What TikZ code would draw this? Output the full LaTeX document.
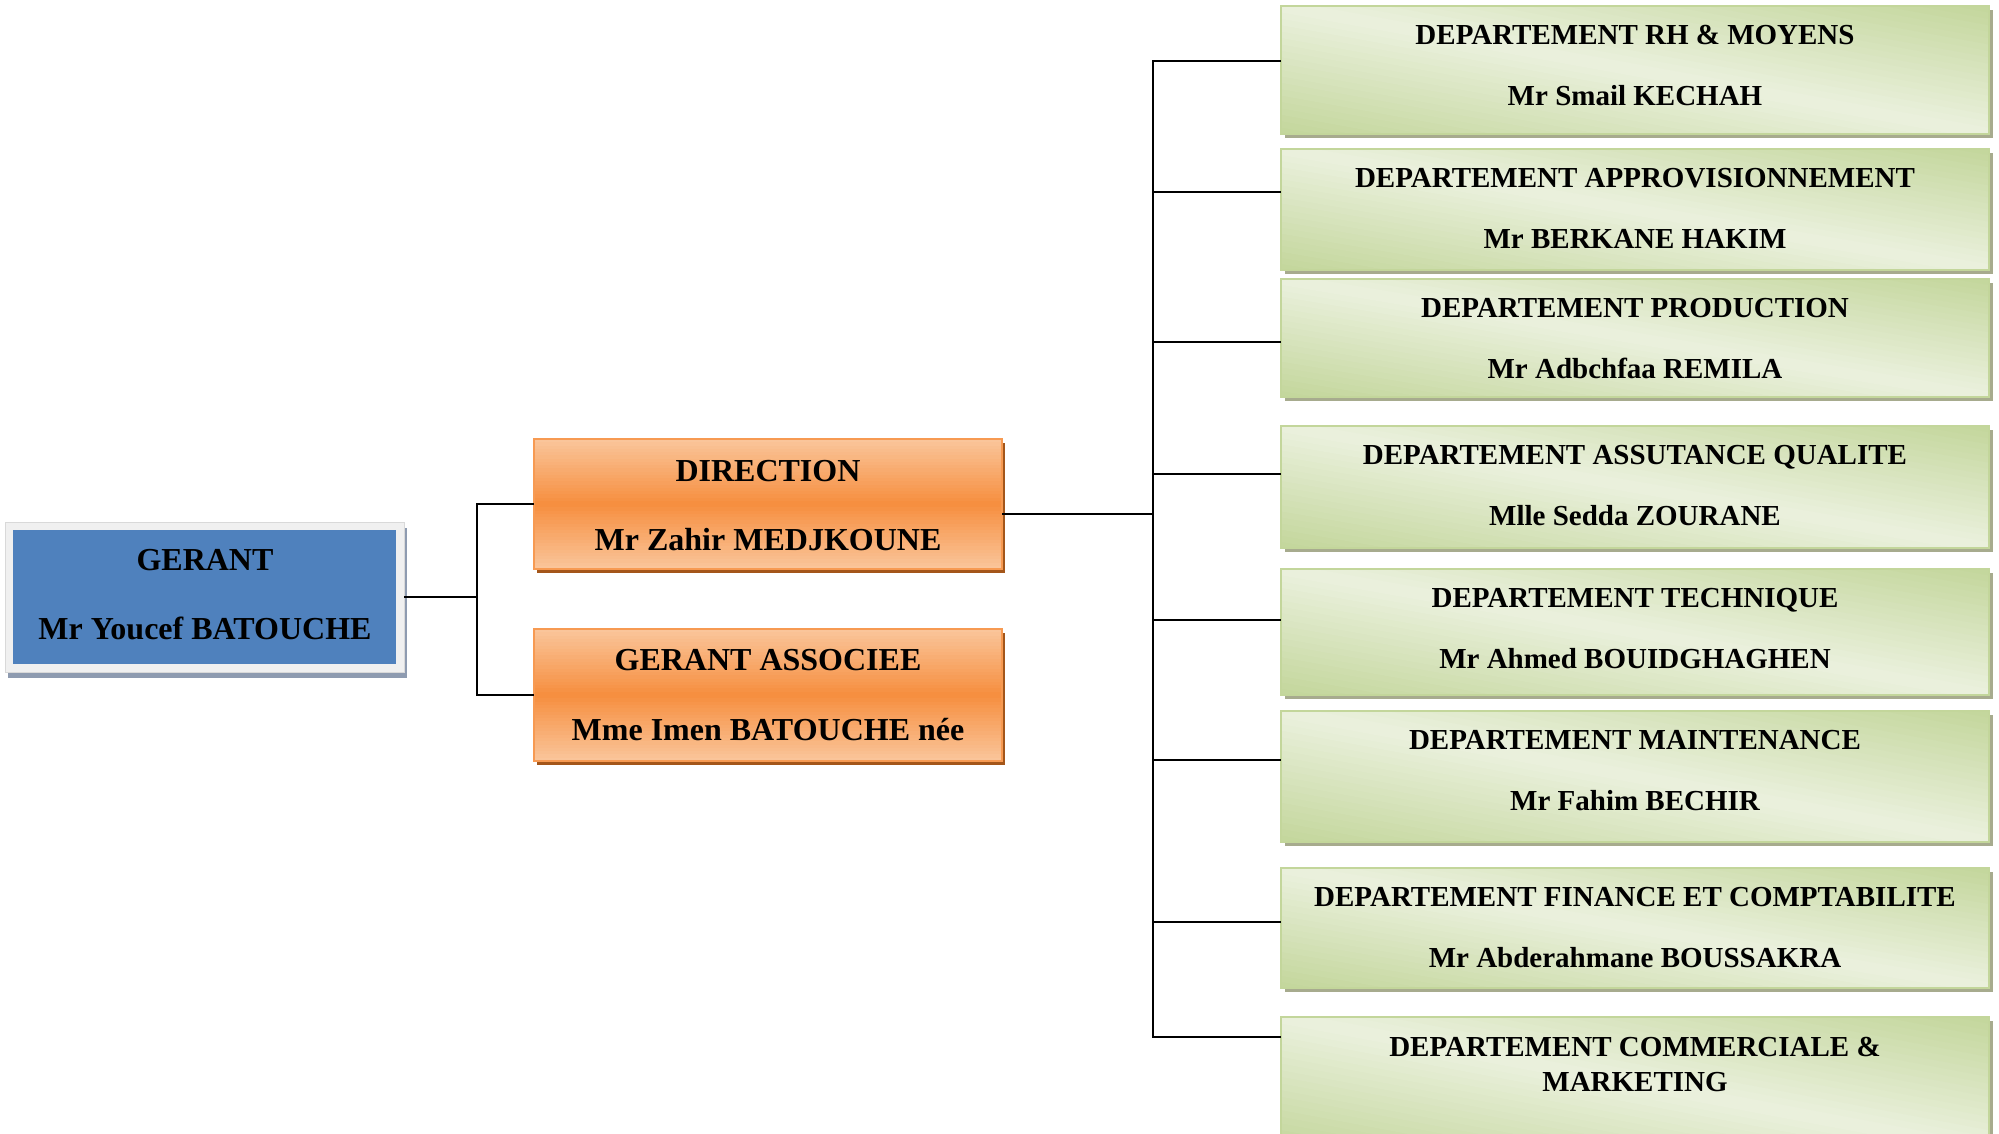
\documentclass[tikz,border=0pt]{standalone}
\usepackage{fontspec}
\setmainfont{Liberation Serif}
\usetikzlibrary{calc,shadows}

\definecolor{gerantblue}{HTML}{4F81BD}
\definecolor{gerantframe}{HTML}{F0F0F0}
\definecolor{gerantshadow}{HTML}{8E9BB0}
\definecolor{orangemid}{HTML}{F68E3E}
\definecolor{orangelight}{HTML}{FAC69C}
\definecolor{orangeedge}{HTML}{F79A52}
\definecolor{orangeshadow}{HTML}{A4561A}
\definecolor{greenlight}{HTML}{EBF1DE}
\definecolor{greendark}{HTML}{C3D69B}
\definecolor{greenshadow}{HTML}{A7AB8E}

\begin{document}
\begin{tikzpicture}[x=1pt,y=-1pt,
  link/.style={draw=black, line width=2pt},
  % corners of the box being painted
  boxcorners/.code={%
    \coordinate (pSW) at (path picture bounding box.south west);
    \coordinate (pSE) at (path picture bounding box.south east);
    \coordinate (pNW) at (path picture bounding box.north west);
    \coordinate (pNE) at (path picture bounding box.north east);},
  % light - orange - light, top to bottom
  orangefill/.style={path picture={
    \tikzset{boxcorners}
    \foreach \i in {0,...,39}{
      \pgfmathsetmacro{\va}{\i/40}
      \pgfmathsetmacro{\vb}{\va+0.035}
      \pgfmathsetmacro{\mix}{100*(1-abs(2*(\va+0.0125)-1))}
      \fill[orangemid!\mix!orangelight] ($(pSW)!\va!(pNW)$) rectangle ($(pSE)!\vb!(pNE)$);
    }}},
  % green at the lower left and upper right corners, light across the other diagonal
  greenfill/.style={path picture={
    \tikzset{boxcorners}
    \foreach \i in {0,...,41}{
      \pgfmathsetmacro{\sa}{\i/20-0.05}
      \pgfmathsetmacro{\sb}{\sa+0.07}
      \pgfmathsetmacro{\ta}{\sa-1}
      \pgfmathsetmacro{\tb}{\sb-1}
      \pgfmathsetmacro{\mix}{100*min(1,abs(\sa+0.025-1))}
      \fill[greendark!\mix!greenlight] ($(pSW)!\sa!(pSE)$) -- ($(pSW)!\sb!(pSE)$)
        -- ($(pNW)!\tb!(pNE)$) -- ($(pNW)!\ta!(pNE)$) -- cycle;
    }}},
  bossbox/.style={rectangle, inner sep=0pt, outer sep=0pt,
    minimum width=399pt, minimum height=150pt,
    fill=gerantframe, draw=gray!30, line width=0.8pt,
    drop shadow={shadow xshift=3pt, shadow yshift=-6pt, fill=gerantshadow, opacity=1},
    path picture={\fill[gerantblue]
      ([shift={(8,8)}]path picture bounding box.north west) rectangle
      ([shift={(-8,-8)}]path picture bounding box.south east);}},
  headbox/.style={rectangle, inner sep=0pt, outer sep=0pt,
    minimum width=468pt, draw=orangeedge, line width=1.5pt,
    fill=orangelight, orangefill,
    drop shadow={shadow xshift=3pt, shadow yshift=-4pt, fill=orangeshadow, opacity=1}},
  deptbox/.style={rectangle, inner sep=0pt, outer sep=0pt,
    minimum width=708pt, draw=greendark, line width=2pt,
    fill=greenlight, greenfill,
    drop shadow={shadow xshift=4pt, shadow yshift=-4pt, fill=greenshadow, opacity=1}},
  bigtext/.style={anchor=base, inner sep=0pt, font=\bfseries\fontsize{32}{38}\selectfont},
  depttext/.style={anchor=base, inner sep=0pt, font=\bfseries\fontsize{29}{35}\selectfont}]

\path[use as bounding box] (0,0) rectangle (1999,1133);
\clip (0,0) rectangle (1999,1133);

% top of the chart
\node[bossbox] (gerant) at (204.5,597) {};
\node[bigtext] (gerant-role) at (205,570) {GERANT};
\node[bigtext] (gerant-name) at (205,639) {Mr Youcef BATOUCHE};

% second level
\node[headbox, minimum height=130pt] (direction) at (768,504) {};
\node[bigtext] (direction-role) at (768,481.5) {DIRECTION};
\node[bigtext] (direction-name) at (768,550) {Mr Zahir MEDJKOUNE};

\node[headbox, minimum height=132pt] (associee) at (768,695) {};
\node[bigtext] (associee-role) at (768,670.5) {GERANT ASSOCIEE};
\node[bigtext] (associee-name) at (768,740) {Mme Imen BATOUCHE née};

% departments
\node[deptbox, minimum height=128pt] (d1) at (1635,70) {};
\node[depttext] (d1-role) at (1635,44.5) {DEPARTEMENT RH \& MOYENS};
\node[depttext] (d1-name) at (1635,105) {Mr Smail KECHAH};

\node[deptbox, minimum height=121pt] (d2) at (1635,209.5) {};
\node[depttext] (d2-role) at (1635,187.5) {DEPARTEMENT APPROVISIONNEMENT};
\node[depttext] (d2-name) at (1635,248) {Mr BERKANE HAKIM};

\node[deptbox, minimum height=118pt] (d3) at (1635,338) {};
\node[depttext] (d3-role) at (1635,317.5) {DEPARTEMENT PRODUCTION};
\node[depttext] (d3-name) at (1635,378) {Mr Adbchfaa REMILA};

\node[deptbox, minimum height=122pt] (d4) at (1635,487) {};
\node[depttext] (d4-role) at (1635,464.5) {DEPARTEMENT ASSUTANCE QUALITE};
\node[depttext] (d4-name) at (1635,525) {Mlle Sedda ZOURANE};

\node[deptbox, minimum height=126pt] (d5) at (1635,632) {};
\node[depttext] (d5-role) at (1635,607.5) {DEPARTEMENT TECHNIQUE};
\node[depttext] (d5-name) at (1635,668) {Mr Ahmed BOUIDGHAGHEN};

\node[deptbox, minimum height=131pt] (d6) at (1635,776.5) {};
\node[depttext] (d6-role) at (1635,749.5) {DEPARTEMENT MAINTENANCE};
\node[depttext] (d6-name) at (1635,810) {Mr Fahim BECHIR};

\node[deptbox, minimum height=120pt] (d7) at (1635,928) {};
\node[depttext] (d7-role) at (1635,906.5) {DEPARTEMENT FINANCE ET COMPTABILITE};
\node[depttext] (d7-name) at (1635,967) {Mr Abderahmane BOUSSAKRA};

\node[deptbox, minimum height=133pt] (d8) at (1635,1083.5) {};
\node[depttext] (d8-role) at (1635,1056) {DEPARTEMENT COMMERCIALE \&};
\node[depttext] (d8-role2) at (1635,1091) {MARKETING};

% connectors
\coordinate (splitx) at (477,0);
\coordinate (trunkx) at (1153,0);

\draw[link] (gerant.east) -- (gerant.east -| splitx);
\draw[link] (direction.west) -- (direction.west -| splitx)
  -- (associee.west -| splitx) -- (associee.west);

\coordinate (dirout) at ([yshift=-10pt]direction.east);
\draw[link] (dirout) -- (dirout -| trunkx);

\coordinate (d1in) at ([yshift=9pt]d1.west);
\coordinate (d2in) at ([yshift=17.5pt]d2.west);
\coordinate (d3in) at ([yshift=-4pt]d3.west);
\coordinate (d4in) at ([yshift=13pt]d4.west);
\coordinate (d5in) at ([yshift=12pt]d5.west);
\coordinate (d6in) at ([yshift=16.5pt]d6.west);
\coordinate (d7in) at ([yshift=6pt]d7.west);
\coordinate (d8in) at ([yshift=46.5pt]d8.west);

\draw[link, line cap=rect] (d1in -| trunkx) -- (d8in -| trunkx);
\foreach \j in {1,...,8}{
  \draw[link] (d\j in -| trunkx) -- (d\j in);
}
\end{tikzpicture}
\end{document}
